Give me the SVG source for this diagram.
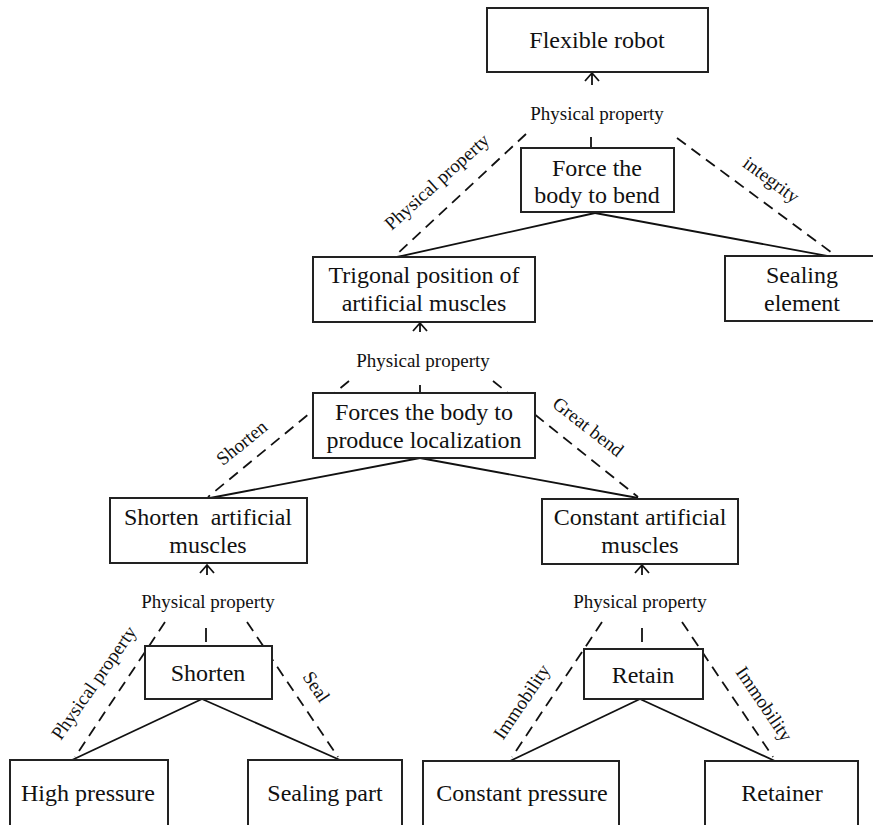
<svg xmlns="http://www.w3.org/2000/svg" width="873" height="825" viewBox="0 0 873 825">
<defs>
<style>
.box{fill:#fff;stroke:#222;stroke-width:2}
.t{font-family:"Liberation Serif","Times New Roman",serif;font-size:24px;fill:#111;text-anchor:middle}
.lb{font-family:"Liberation Serif","Times New Roman",serif;font-size:19px;fill:#111;text-anchor:middle}
.s{stroke:#111;stroke-width:1.8;fill:none}
.d{stroke:#111;stroke-width:1.8;fill:none;stroke-dasharray:11 7}
.ar{stroke:#111;stroke-width:1.8;fill:none}
</style>
</defs>
<rect width="873" height="825" fill="#fff"/>
<g id="connectors">
<line class="s" x1="595" y1="213" x2="397" y2="257"/>
<line class="s" x1="595" y1="213" x2="833" y2="257"/>
<line class="d" x1="526" y1="134" x2="396" y2="255"/>
<line class="d" x1="677" y1="138" x2="835" y2="255"/>
<line class="s" x1="591" y1="137" x2="591" y2="148"/>
<path class="ar" d="M592 85 V73 M585 81 L592 73 L599 81"/>
<line class="s" x1="420" y1="458" x2="210" y2="498"/>
<line class="s" x1="420" y1="458" x2="638" y2="498"/>
<line class="d" x1="349" y1="381" x2="208" y2="497"/>
<line class="d" x1="493" y1="381" x2="638" y2="497"/>
<line class="s" x1="420" y1="385" x2="420" y2="393"/>
<path class="ar" d="M420 332 V323 M413 331 L420 323 L427 331"/>
<line class="s" x1="202" y1="699" x2="72" y2="760"/>
<line class="s" x1="202" y1="699" x2="340" y2="760"/>
<line class="d" x1="165" y1="622" x2="75" y2="757"/>
<line class="d" x1="247" y1="622" x2="338" y2="757"/>
<line class="s" x1="206" y1="628" x2="206" y2="642"/>
<path class="ar" d="M207 575 V565 M200 573 L207 565 L214 573"/>
<line class="s" x1="640" y1="699" x2="510" y2="761"/>
<line class="s" x1="640" y1="699" x2="775" y2="761"/>
<line class="d" x1="602" y1="622" x2="512" y2="757"/>
<line class="d" x1="682" y1="622" x2="773" y2="757"/>
<line class="s" x1="642" y1="628" x2="642" y2="642"/>
<path class="ar" d="M642 575 V565 M635 573 L642 565 L649 573"/>
<text class="lb" x="597" y="120">Physical property</text>
<text class="lb" transform="translate(437,182) rotate(-42)" y="6">Physical property</text>
<text class="lb" transform="translate(771,180) rotate(36.5)" y="6">integrity</text>
<text class="lb" x="423" y="367">Physical property</text>
<text class="lb" transform="translate(242,443) rotate(-39)" y="6">Shorten</text>
<text class="lb" transform="translate(588,427) rotate(38)" y="6">Great bend</text>
<text class="lb" x="208" y="608">Physical property</text>
<text class="lb" transform="translate(94,683) rotate(-55)" y="6">Physical property</text>
<text class="lb" transform="translate(316,687) rotate(56)" y="6">Seal</text>
<text class="lb" x="640" y="608">Physical property</text>
<text class="lb" transform="translate(522,702) rotate(-56)" y="6">Immobility</text>
<text class="lb" transform="translate(764,704) rotate(56)" y="6">Immobility</text>
</g>
<g id="flexible-robot"><rect class="box" x="487" y="8" width="221" height="64"/><text class="t" x="597" y="48">Flexible robot</text></g>
<g id="force-bend"><rect class="box" x="521" y="148" width="153" height="64"/><text class="t" x="597" y="176">Force the</text><text class="t" x="597" y="203">body to bend</text></g>
<g id="trigonal"><rect class="box" x="313" y="257" width="222" height="65"/><text class="t" x="424" y="283">Trigonal position of</text><text class="t" x="424" y="311">artificial muscles</text></g>
<g id="sealing-element"><rect class="box" x="725" y="256" width="160" height="65"/><text class="t" x="802" y="283">Sealing</text><text class="t" x="802" y="311">element</text></g>
<g id="forces-localization"><rect class="box" x="313" y="393" width="222" height="65"/><text class="t" x="424" y="420">Forces the body to</text><text class="t" x="424" y="448">produce localization</text></g>
<g id="shorten-am"><rect class="box" x="110" y="498" width="197" height="65"/><text class="t" x="208" y="525" xml:space="preserve">Shorten  artificial</text><text class="t" x="208" y="553">muscles</text></g>
<g id="constant-am"><rect class="box" x="542" y="499" width="196" height="65"/><text class="t" x="640" y="525">Constant artificial</text><text class="t" x="640" y="553">muscles</text></g>
<g id="shorten"><rect class="box" x="145" y="646" width="127" height="53"/><text class="t" x="208" y="681">Shorten</text></g>
<g id="retain"><rect class="box" x="584" y="649" width="119" height="50"/><text class="t" x="643" y="683">Retain</text></g>
<g id="high-pressure"><rect class="box" x="10" y="760" width="158" height="80"/><text class="t" x="88" y="801">High pressure</text></g>
<g id="sealing-part"><rect class="box" x="248" y="760" width="154" height="80"/><text class="t" x="325" y="801">Sealing part</text></g>
<g id="constant-pressure"><rect class="box" x="423" y="761" width="196" height="80"/><text class="t" x="522" y="801">Constant pressure</text></g>
<g id="retainer"><rect class="box" x="705" y="761" width="153" height="80"/><text class="t" x="782" y="801">Retainer</text></g>
</svg>
